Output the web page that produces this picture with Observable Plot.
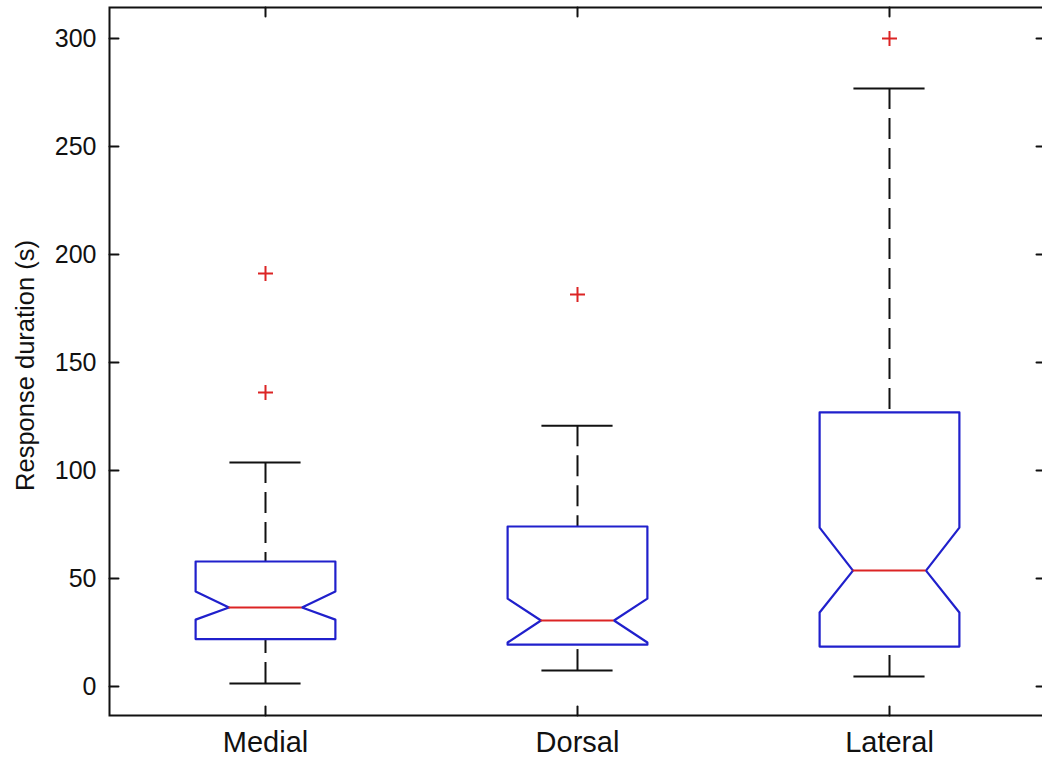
<!DOCTYPE html>
<html>
<head>
<meta charset="utf-8">
<script src="https://cdn.jsdelivr.net/npm/d3@7"></script>
<script src="https://cdn.jsdelivr.net/npm/@observablehq/plot@0.6"></script>
<style>
  html, body { margin: 0; padding: 0; background: #fff; overflow: hidden; }
  #chart svg { display: block; }
</style>
</head>
<body>
<div id="chart"></div>
<script>
// ---- data ----
const categories = ["Medial", "Dorsal", "Lateral"];
const q1 =        [22.0, 19.4, 18.5];
const median =    [36.6, 30.6, 53.7];
const q3 =        [57.9, 74.1, 126.9];
const notchLo =   [31.0, 20.4, 34.3];
const notchHi =   [44.0, 40.7, 73.6];
const whiskerLo = [1.4, 7.4, 4.6];
const whiskerHi = [103.7, 120.8, 276.9];
const outlierCategory = ["Medial", "Medial", "Dorsal", "Lateral"];
const outlierValue =    [191.2, 136.1, 181.5, 300];
const yTicks = [0, 50, 100, 150, 200, 250, 300];
const yDomain = [-13.4, 314.4];
const yLabel = "Response duration (s)";

// ---- geometry of the boxes (in category units) ----
const boxHalf = 0.224, notchHalf = 0.117, capHalf = 0.114;
const pos = categories.map((c, i) => i + 1);

const boxes = categories.map((c, i) => ({
  category: c, x: pos[i], q1: q1[i], med: median[i], q3: q3[i],
  nlo: notchLo[i], nhi: notchHi[i], wlo: whiskerLo[i], whi: whiskerHi[i]
}));

// notched outline as a closed polyline per category
const outline = boxes.flatMap(b => [
  [-boxHalf, b.q1], [-boxHalf, b.nlo], [-notchHalf, b.med], [-boxHalf, b.nhi],
  [-boxHalf, b.q3], [boxHalf, b.q3], [boxHalf, b.nhi], [notchHalf, b.med],
  [boxHalf, b.nlo], [boxHalf, b.q1], [-boxHalf, b.q1]
].map(([dx, v]) => ({category: b.category, x: b.x + dx, y: v})));

const outliers = outlierCategory.map((c, i) => ({x: categories.indexOf(c) + 1, y: outlierValue[i]}));

const plusSymbol = {
  draw(context, size) {
    const r = Math.sqrt(size / Math.PI);
    context.moveTo(-r, 0); context.lineTo(r, 0);
    context.moveTo(0, -r); context.lineTo(0, r);
  }
};
const tickShape = {
  draw(context, l) { context.moveTo(0, 0); context.lineTo(0, -l); }
};

const font = "'Liberation Sans', Arial, Helvetica, sans-serif";
const blue = "#2020cc", red = "#dc2424";

const chart = Plot.plot({
  width: 1042,
  height: 759,
  marginLeft: 109,
  marginRight: -3,
  marginTop: 7,
  marginBottom: 44,
  style: {fontFamily: font, background: "#fff", color: "#111"},
  x: {type: "linear", domain: [0.5, 3.5]},
  y: {domain: yDomain},
  marks: [
    // whiskers (dashed)
    Plot.ruleX(boxes, {x: "x", y1: "whi", y2: "q3", stroke: "#111", strokeWidth: 2, strokeDasharray: "21,9"}),
    Plot.ruleX(boxes, {x: "x", y1: "wlo", y2: "q1", stroke: "#111", strokeWidth: 2, strokeDasharray: "21,9"}),
    // whisker caps
    Plot.ruleY(boxes, {y: "whi", x1: d => d.x - capHalf, x2: d => d.x + capHalf, stroke: "#111", strokeWidth: 2}),
    Plot.ruleY(boxes, {y: "wlo", x1: d => d.x - capHalf, x2: d => d.x + capHalf, stroke: "#111", strokeWidth: 2}),
    // notched boxes
    Plot.line(outline, {x: "x", y: "y", z: "category", stroke: blue, strokeWidth: 2.2, fill: "#fff", curve: "linear"}),
    // medians
    Plot.ruleY(boxes, {y: "med", x1: d => d.x - notchHalf, x2: d => d.x + notchHalf, stroke: red, strokeWidth: 2}),
    // outliers
    Plot.dot(outliers, {x: "x", y: "y", symbol: plusSymbol, r: 7.5, stroke: red, strokeWidth: 2, fill: "none"}),
    // frame
    Plot.frame({stroke: "#111", strokeWidth: 2}),
    // inward ticks
    Plot.vector(yTicks, {x: 0.5, y: d => d, length: 9, rotate: 90, anchor: "start", shape: tickShape, stroke: "#111", strokeWidth: 2}),
    Plot.vector(yTicks, {x: 3.5, y: d => d, length: 9, rotate: -90, anchor: "start", shape: tickShape, stroke: "#111", strokeWidth: 2}),
    Plot.vector(pos, {x: d => d, y: yDomain[1], length: 9, rotate: 180, anchor: "start", shape: tickShape, stroke: "#111", strokeWidth: 2}),
    Plot.vector(pos, {x: d => d, y: yDomain[0], length: 9, rotate: 0, anchor: "start", shape: tickShape, stroke: "#111", strokeWidth: 2}),
    // axes labels
    Plot.axisY({ticks: yTicks, tickSize: 0, tickPadding: 13, fontSize: 25, label: null, tickFormat: d => String(d)}),
    Plot.axisX({ticks: pos, tickSize: 0, tickPadding: 16, fontSize: 29, label: null, tickFormat: d => categories[d - 1]}),
    Plot.text([yLabel], {frameAnchor: "left", text: d => d, rotate: -90, dx: -84, dy: 4, fontSize: 25.5, textAnchor: "middle", lineAnchor: "middle", fill: "#111"})
  ]
});
document.getElementById("chart").appendChild(chart);
</script>
</body>
</html>
